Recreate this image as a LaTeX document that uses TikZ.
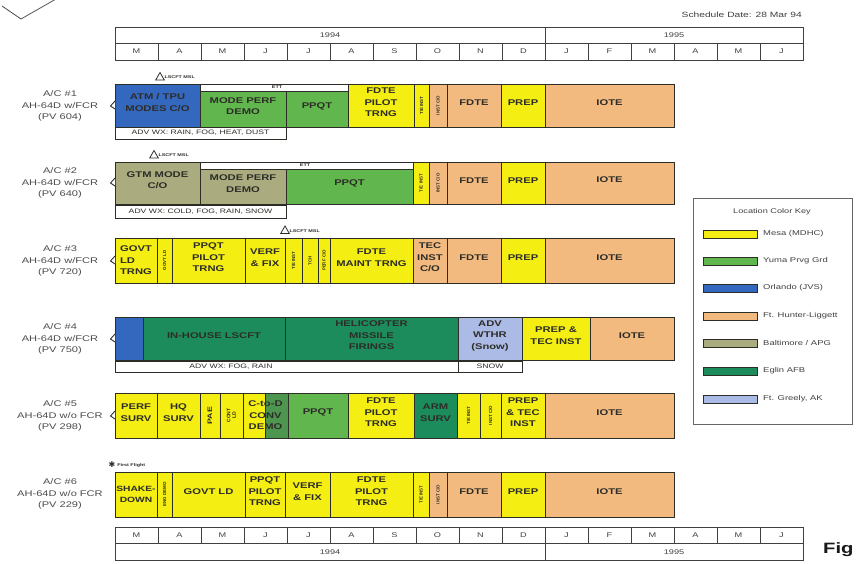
\documentclass[tikz,border=0pt]{standalone}
\usepackage{fontspec}
\setmainfont{Liberation Sans}
\newfontfamily\wf[FakeStretch=1.35]{Liberation Sans}
\newfontfamily\dejavu{DejaVu Sans}
\usetikzlibrary{fit,shapes.geometric}
\definecolor{mesa}{RGB}{244,238,18}
\definecolor{yuma}{RGB}{98,182,78}
\definecolor{yumad}{RGB}{78,150,80}
\definecolor{orl}{RGB}{52,104,190}
\definecolor{fhl}{RGB}{243,186,128}
\definecolor{apg}{RGB}{170,172,128}
\definecolor{eglin}{RGB}{28,140,92}
\definecolor{greely}{RGB}{172,186,230}
\definecolor{ink}{RGB}{45,45,40}
\newcommand\Blk[7]{\node[blk,fill=#6,fit={(#2,#4) (#3,#5)}] (#1) {#7};}
\newcommand\VBlk[7]{\node[blk,fill=#6,fit={(#2,#4) (#3,#5)}] (#1) {};
  \node[vtxt] (#1t) at (#1.center) {#7};}
\newcommand\WBlk[5]{\node[wxbox,fit={(#2,#4) (#3,#5)}] (#1) {};}
\newcommand\Notch[1]{\draw[notchline] (115,#1-5) -- (110.5,#1) -- (115,#1+3);}
\begin{document}
\begin{tikzpicture}[x=1pt,y=-1pt,
  blk/.style={draw=ink, line width=0.9pt, inner sep=0pt, outer sep=0pt, align=center,
    font=\wf\bfseries\fontsize{8.3}{11.5}\selectfont, text=ink},
  vtxt/.style={rotate=90, font=\bfseries\fontsize{4.4}{4.8}\selectfont, inner sep=0pt, text=ink},
  wxbox/.style={draw=ink, fill=white, line width=0.8pt, inner sep=0pt, outer sep=0pt},
  wxt/.style={font=\wf\fontsize{6.4}{7}\selectfont, inner sep=0pt, text=ink},
  tinyt/.style={font=\wf\bfseries\fontsize{4}{4.5}\selectfont, inner sep=0pt, text=ink},
  lbl/.style={align=center, font=\wf\fontsize{8.2}{11.5}\selectfont, text=black!70},
  mon/.style={font=\wf\fontsize{6.8}{7}\selectfont, inner sep=0pt, text=black!75},
  grid/.style={draw=black!75, line width=0.7pt},
  tri/.style={draw=ink, line width=0.8pt, regular polygon, regular polygon sides=3, minimum size=10pt, inner sep=0pt},
  notchline/.style={draw=ink, line width=0.9pt, fill=white},
  keyt/.style={font=\wf\fontsize{7}{8}\selectfont, anchor=west, inner sep=0pt, text=black!75},
  sw/.style={draw=ink, line width=0.8pt, inner sep=0pt, outer sep=0pt}
]
\useasboundingbox (0,0) rectangle (856,563);
\fill[white] (0,0) rectangle (856,563);
% corner mark
\draw[black!70, line width=0.8pt] (2,6) -- (21,19) -- (56,-1);
% schedule date
\node[font=\wf\fontsize{7.6}{8}\selectfont, anchor=east, text=black!75, inner sep=0pt] (sd) at (802,15) {Schedule Date: 28 Mar 94};
% top header
\path[grid] (115,27) rectangle (803,60);
\draw[grid] (115,43) -- (803,43);
\draw[grid] (545,27) -- (545,43);
\foreach \i in {1,...,15} \draw[grid] (115+43*\i,43) -- (115+43*\i,60);
\node[mon] (y94t) at (330,35) {1994};
\node[mon] (y95t) at (674,35) {1995};
\foreach \m [count=\i from 0] in {M,A,M,J,J,A,S,O,N,D,J,F,M,A,M,J}
  \node[mon] (mt\i) at (136.5+43*\i,51.5) {\m};
% bottom header
\path[grid] (115,527) rectangle (803,560);
\draw[grid] (115,543) -- (803,543);
\draw[grid] (545,543) -- (545,560);
\foreach \i in {1,...,15} \draw[grid] (115+43*\i,527) -- (115+43*\i,543);
\node[mon] (y94b) at (330,552) {1994};
\node[mon] (y95b) at (674,552) {1995};
\foreach \m [count=\i from 0] in {M,A,M,J,J,A,S,O,N,D,J,F,M,A,M,J}
  \node[mon] (mb\i) at (136.5+43*\i,535) {\m};

% ---------- Row 1
\node[lbl] (l1) at (60,106) {A/C \#1\\AH-64D w/FCR\\(PV 604)};
\Blk{r1a}{115}{200}{84}{127}{orl}{ATM / TPU\\MODES C/O}
\Blk{r1s}{200}{348}{84}{91}{white}{}
\node[tinyt] (r1ett) at (277,87.5) {ETT};
\Blk{r1b}{200}{286}{91}{127}{yuma}{MODE PERF\\DEMO}
\Blk{r1c}{286}{348}{91}{127}{yuma}{PPQT}
\Blk{r1d}{348}{414}{84}{127}{mesa}{FDTE\\PILOT\\TRNG}
\VBlk{r1e}{414}{429}{84}{127}{mesa}{T/E INST}
\VBlk{r1f}{429}{447}{84}{127}{fhl}{INST C/O}
\Blk{r1g}{447}{501}{84}{127}{fhl}{FDTE}
\Blk{r1h}{501}{545}{84}{127}{mesa}{PREP}
\Blk{r1i}{545}{674}{84}{127}{fhl}{IOTE}
\WBlk{r1w}{115}{286}{127}{139}
\node[wxt] (r1wt) at (r1w.center) {ADV WX: RAIN, FOG, HEAT, DUST};
\node[tri] (m1) at (160,77.5) {};
\node[tinyt, anchor=west] (m1t) at ([xshift=1pt]m1.east) {LSCFT MSL};
\Notch{106}

% ---------- Row 2
\node[lbl] (l2) at (60,183) {A/C \#2\\AH-64D w/FCR\\(PV 640)};
\Blk{r2a}{115}{200}{162}{204}{apg}{GTM MODE\\C/O}
\Blk{r2s}{200}{413}{162}{169}{white}{}
\node[tinyt] (r2ett) at (305,165.5) {ETT};
\Blk{r2b}{200}{286}{169}{204}{apg}{MODE PERF\\DEMO}
\Blk{r2c}{286}{413}{169}{204}{yuma}{PPQT}
\VBlk{r2e}{413}{429}{162}{204}{mesa}{T/E INST}
\VBlk{r2f}{429}{447}{162}{204}{fhl}{INST C/O}
\Blk{r2g}{447}{501}{162}{204}{fhl}{FDTE}
\Blk{r2h}{501}{545}{162}{204}{mesa}{PREP}
\Blk{r2i}{545}{674}{162}{204}{fhl}{IOTE}
\WBlk{r2w}{115}{286}{205}{218}
\node[wxt] (r2wt) at (r2w.center) {ADV WX: COLD, FOG, RAIN, SNOW};
\node[tri] (m2) at (154,155.5) {};
\node[tinyt, anchor=west] (m2t) at ([xshift=1pt]m2.east) {LSCFT MSL};
\Notch{183}

% ---------- Row 3
\node[lbl] (l3) at (60,261) {A/C \#3\\AH-64D w/FCR\\(PV 720)};
\Blk{r3a}{115}{157}{238}{283}{mesa}{}
\node[blk,draw=none,fill=none,align=left] (r3at) at (r3a.center) {GOVT\\LD\\TRNG};
\VBlk{r3b}{157}{172}{238}{283}{mesa}{GOVT LD}
\Blk{r3c}{172}{245}{238}{283}{mesa}{PPQT\\PILOT\\TRNG}
\Blk{r3d}{245}{285}{238}{283}{mesa}{VERF\\\& FIX}
\VBlk{r3e}{285}{302}{238}{283}{mesa}{T/E INST}
\VBlk{r3f}{302}{318}{238}{283}{mesa}{TCH}
\VBlk{r3g}{318}{330}{238}{283}{mesa}{PERF C/O}
\Blk{r3h}{330}{413}{238}{283}{mesa}{FDTE\\MAINT TRNG}
\Blk{r3i}{413}{447}{238}{283}{fhl}{TEC\\INST\\C/O}
\Blk{r3j}{447}{501}{238}{283}{fhl}{FDTE}
\Blk{r3k}{501}{545}{238}{283}{mesa}{PREP}
\Blk{r3l}{545}{674}{238}{283}{fhl}{IOTE}
\node[tri] (m3) at (285,231) {};
\node[tinyt, anchor=west] (m3t) at ([xshift=1pt]m3.east) {LSCFT MSL};
\Notch{261}

% ---------- Row 4
\node[lbl] (l4) at (60,339) {A/C \#4\\AH-64D w/FCR\\(PV 750)};
\Blk{r4a}{115}{143}{317}{360}{orl}{}
\Blk{r4b}{143}{285}{317}{360}{eglin}{IN-HOUSE LSCFT}
\Blk{r4c}{285}{458}{317}{360}{eglin}{HELICOPTER\\MISSILE\\FIRINGS}
\Blk{r4d}{458}{522}{317}{360}{greely}{ADV\\WTHR\\(Snow)}
\Blk{r4e}{522}{590}{317}{360}{mesa}{PREP \&\\TEC INST}
\Blk{r4f}{590}{674}{317}{360}{fhl}{IOTE}
\WBlk{r4w}{115}{458}{361}{372}
\node[wxt] (r4wt) at (231,366.5) {ADV WX: FOG, RAIN};
\WBlk{r4v}{458}{522}{361}{372}
\node[wxt] (r4vt) at (r4v.center) {SNOW};
\Notch{339}

% ---------- Row 5
\node[lbl] (l5) at (60,416) {A/C \#5\\AH-64D w/o FCR\\(PV 298)};
\Blk{r5a}{115}{157}{393}{438}{mesa}{PERF\\SURV}
\Blk{r5b}{157}{200}{393}{438}{mesa}{HQ\\SURV}
\node[blk,fill=mesa,fit={(200,393) (220,438)}] (r5c) {};
\node[rotate=90, font=\wf\bfseries\fontsize{6.5}{6.5}\selectfont, inner sep=0pt, text=ink] (r5ct) at (r5c.center) {PAE};
\node[blk,fill=mesa,fit={(220,393) (243,438)}] (r5d) {};
\node[rotate=90, align=center, font=\bfseries\fontsize{5}{5.5}\selectfont, inner sep=0pt, text=ink] (r5dt) at (r5d.center) {CONT\\LD};
\node[blk,fill=mesa,fit={(243,393) (265,438)}] (r5e1) {};
\node[blk,fill=yumad,fit={(265,393) (288,438)}] (r5e2) {};
\node[blk,fill=none,draw=none] (r5et) at (265.5,415.5) {C-to-D\\CONV\\DEMO};
\Blk{r5f}{288}{348}{393}{438}{yuma}{PPQT}
\Blk{r5g}{348}{414}{393}{438}{mesa}{FDTE\\PILOT\\TRNG}
\Blk{r5h}{414}{457}{393}{438}{eglin}{ARM\\SURV}
\VBlk{r5i}{457}{480}{393}{438}{mesa}{T/E INST}
\VBlk{r5j}{480}{501}{393}{438}{mesa}{INST C/O}
\Blk{r5l}{501}{545}{393}{438}{mesa}{PREP\\\& TEC\\INST}
\Blk{r5m}{545}{674}{393}{438}{fhl}{IOTE}
\Notch{416}

% ---------- Row 6
\node[lbl] (l6) at (60,494) {A/C \#6\\AH-64D w/o FCR\\(PV 229)};
\Blk{r6a}{115}{157}{472}{517}{mesa}{}
\node[blk,draw=none,fill=none,font=\wf\bfseries\fontsize{7.6}{11.5}\selectfont] (r6at) at (r6a.center) {SHAKE-\\DOWN};
\VBlk{r6b}{157}{172}{472}{517}{mesa}{ENG DEMO}
\Blk{r6c}{172}{245}{472}{517}{mesa}{GOVT LD}
\Blk{r6d}{245}{285}{472}{517}{mesa}{PPQT\\PILOT\\TRNG}
\Blk{r6e}{285}{330}{472}{517}{mesa}{VERF\\\& FIX}
\Blk{r6f}{330}{413}{472}{517}{mesa}{FDTE\\PILOT\\TRNG}
\VBlk{r6g}{413}{429}{472}{517}{mesa}{T/E INST}
\VBlk{r6h}{429}{447}{472}{517}{fhl}{INST C/O}
\Blk{r6i}{447}{501}{472}{517}{fhl}{FDTE}
\Blk{r6j}{501}{545}{472}{517}{mesa}{PREP}
\Blk{r6k}{545}{674}{472}{517}{fhl}{IOTE}
\node[font=\dejavu\fontsize{8}{8}\selectfont, inner sep=0pt, text=ink] (ff) at (112,465) {✱};
\node[tinyt, anchor=west] (fft) at ([xshift=1.5pt]ff.east) {First Flight};

% ---------- Legend
\node[draw=black!60, line width=0.8pt, fit={(693,198) (852,424)}, inner sep=0pt] (key) {};
\node[font=\wf\fontsize{6.8}{7}\selectfont, text=black!75] (keyh) at (772,212) {Location Color Key};
\foreach \c/\t/\y [count=\k] in {mesa/{Mesa (MDHC)}/234, yuma/{Yuma Prvg Grd}/261, orl/{Orlando (JVS)}/288,
   fhl/{Ft. Hunter-Liggett}/316, apg/{Baltimore / APG}/343, eglin/{Eglin AFB}/371, greely/{Ft. Greely, AK}/399}{
  \node[sw, fill=\c, minimum width=54pt, minimum height=8pt, anchor=west] (ks\k) at (703,\y) {};
  \node[keyt] (kt\k) at (763,\y) {\t};
}
% Fig
\node[font=\wf\bfseries\fontsize{15}{15}\selectfont, anchor=west, inner sep=0pt, text=black!90] (fig) at (823,550) {Fig};
\end{tikzpicture}
\end{document}
